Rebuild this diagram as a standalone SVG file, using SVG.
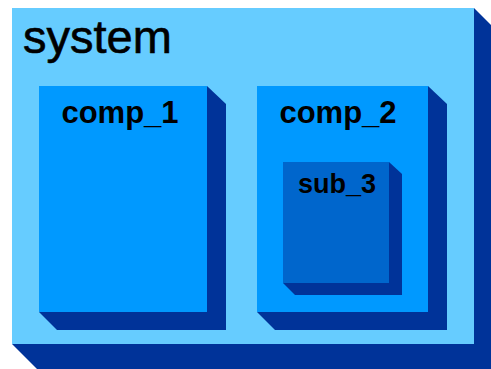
<svg xmlns="http://www.w3.org/2000/svg" width="491" height="369" viewBox="0 0 491 369">
<style>
.shadow{fill:#003399}
.sys{fill:#66CCFF}
.comp{fill:#0099FF}
.sub{fill:#0066CC}
text{font-family:"Liberation Sans",Arial,sans-serif;fill:#000}
.big{font-size:47px;stroke:#000;stroke-width:0.6}
.lbl{font-size:31px;font-weight:bold;text-anchor:middle}
.slbl{font-size:27px;font-weight:bold;text-anchor:middle}
</style>
<rect width="491" height="369" fill="#ffffff"/>
<g id="system">
<polygon class="shadow" points="474,8 499,33 499,369 37,369 12,344"/>
<rect class="sys" x="12" y="8" width="462" height="336"/>
<text class="big" x="23" y="53">system</text>
</g>
<g id="comp_1">
<polygon class="shadow" points="207,86 226,104 226,330 57,330 39,312"/>
<rect class="comp" x="39" y="86" width="168" height="226"/>
<text class="lbl" x="120" y="123">comp_1</text>
</g>
<g id="comp_2">
<polygon class="shadow" points="428,86 447,104 447,330 275,330 257,312"/>
<rect class="comp" x="257" y="86" width="171" height="226"/>
<text class="lbl" x="338" y="123">comp_2</text>
</g>
<g id="sub_3">
<polygon class="shadow" points="389,162 402,174 402,295 295,295 283,283"/>
<rect class="sub" x="283" y="162" width="106" height="121"/>
<text class="slbl" x="337" y="193">sub_3</text>
</g>
<g id="connectors"></g>
</svg>
